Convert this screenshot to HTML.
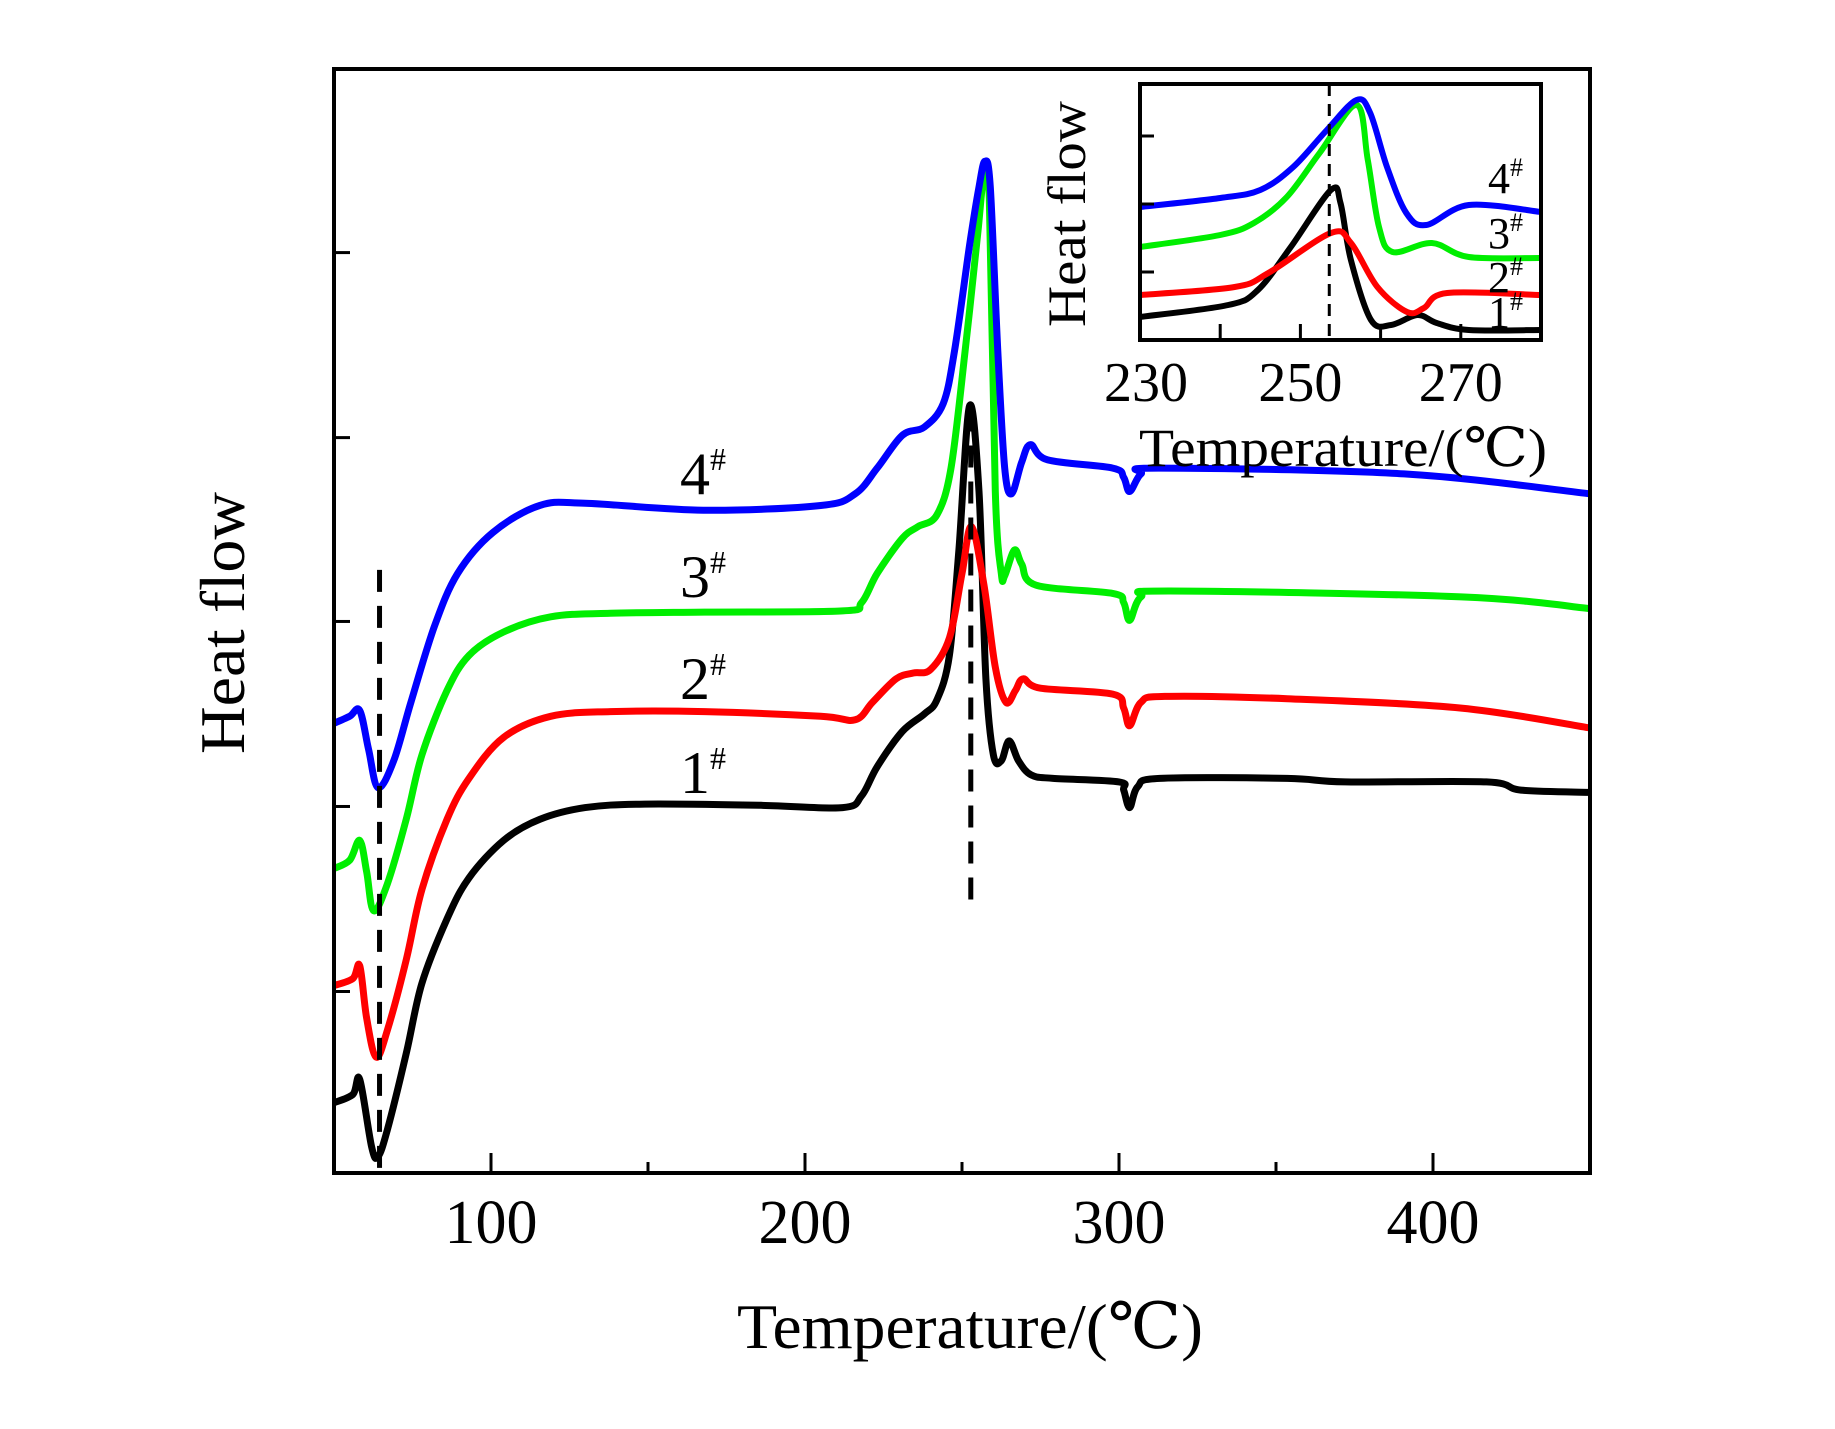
<!DOCTYPE html>
<html><head><meta charset="utf-8"><style>
html,body{margin:0;padding:0;background:#fff;}
svg{display:block;}
text{font-family:"Liberation Serif","DejaVu Serif",serif;fill:#000;}
</style></head><body>
<svg id="chart" width="1835" height="1429" viewBox="0 0 1835 1429" xmlns="http://www.w3.org/2000/svg"></svg>
<script>
// ---- main chart data ----
const mainXTicks = [100, 200, 300, 400];
const mainXMinor = [150, 250, 350];
const mainYTicks = [1.55, 3.13, 4.71, 6.28, 7.86];
const s1T = [50,56,58.2,62,64,67,73,78,86,93,104,115.5,130,149,186,212,218,223,231,238,242,246,249,252.4,255.4,257.6,260,262.5,265,268,272,279,300,301.5,303.4,306,313,353.6,372,417,428,450];
const s1V = [0.60,0.67,0.80,0.22,0.14,0.37,1.02,1.62,2.17,2.52,2.84,3.02,3.12,3.15,3.14,3.12,3.22,3.47,3.77,3.92,4.04,4.42,5.32,6.55,5.82,4.22,3.57,3.52,3.69,3.52,3.40,3.37,3.34,3.27,3.12,3.30,3.37,3.37,3.34,3.34,3.27,3.25];
const s2T = [50,56,58.2,60.4,63.4,67,73,78,86,93,104,119,138,168,205,216,221.5,229,234.5,240,246,250,253,257,260.6,264,267,269.5,275,298,301.5,303.4,307,314.6,353.6,409,450];
const s2V = [1.60,1.66,1.77,1.32,0.99,1.22,1.82,2.42,3.02,3.37,3.72,3.90,3.94,3.94,3.90,3.87,4.02,4.22,4.27,4.30,4.57,5.12,5.52,5.02,4.32,4.02,4.12,4.22,4.14,4.09,3.97,3.82,4.02,4.07,4.05,3.97,3.80];
const s3T = [50,55,58.2,60.4,62.6,67,73,78,86,93,104,119,138,168,212,218,223,231,236,242,246.5,251,255,257,258.7,260.6,262.5,263.6,266.7,269,273.6,298,301.5,303.4,307,316,409,450];
const s3V = [2.60,2.67,2.84,2.57,2.24,2.47,3.02,3.57,4.12,4.42,4.62,4.75,4.78,4.79,4.80,4.87,5.12,5.42,5.52,5.62,6.02,7.02,8.02,8.52,8.32,5.82,5.12,5.10,5.32,5.20,5.02,4.95,4.87,4.72,4.92,4.97,4.92,4.82];
const s4T = [50,55,58.2,61,64,69,74.5,82,89.4,100.6,115.5,130,167.6,205,216,223,231,238,244,247.6,252.4,255.4,257.3,259,261.4,263.6,265.8,269,271.8,277.3,298,301.5,303.4,307,312.7,390.8,450];
const s4V = [3.84,3.90,3.95,3.62,3.29,3.52,4.02,4.67,5.12,5.47,5.70,5.72,5.66,5.70,5.80,6.02,6.30,6.37,6.57,7.02,7.92,8.42,8.64,8.42,7.02,6.02,5.80,6.07,6.22,6.09,6.02,5.94,5.82,5.97,6.02,5.97,5.80];
const dashT = [64.5, 252.8];
const dashV0 = [5.15, 6.52];
const dashV1 = [0.02, 2.27];
// ---- inset data ----
const insetXTicks = [230, 250, 270];
const insetXMinor = [240, 260];
const insetYTicks = [68, 136, 204];
const i1T = [230,241,244.7,248.8,253.8,255,256.3,258.8,261.3,264.6,267,271,280];
const i1V = [23,35,50,93,150,137,80,20,15,25,17,10,10];
const i2T = [230,241.8,246,253.8,256.3,259.6,263.3,265.4,268.3,280];
const i2V = [45,53,67,107,97,53,28,32,47,45];
const i3T = [230,240,244.2,248.3,252.4,257,258.4,259.8,261.5,266.4,271,280];
const i3V = [93,105,117,143,187,235,180,113,88,97,83,82];
const i4T = [230,240,245,249.1,253.3,257,258.7,260.8,263.2,265.7,271,280];
const i4V = [133,142,150,173,210,240,227,173,127,115,135,128];
const insetDashT = 253.6;

const NS = "http://www.w3.org/2000/svg";
const svg = document.getElementById('chart');
function mk(tag, attrs, parent){const e=document.createElementNS(NS,tag);for(const k in attrs)e.setAttribute(k,attrs[k]);(parent||svg).appendChild(e);return e;}

const L=334,R=1590,T=69,B=1173;
const xS = t => L + (t-50)/(450-50)*(R-L);
const yS = v => B - v*117.1;
const IL=1140,IR=1541,IT=84,IB=340;
const ixS = t => IL + (t-230)/(280-230)*(IR-IL);
const iyS = u => IB - u;

function spline(pts){
  let d='M'+pts[0][0].toFixed(1)+','+pts[0][1].toFixed(1);
  for(let i=0;i<pts.length-1;i++){
    const p0=pts[Math.max(0,i-1)],p1=pts[i],p2=pts[i+1],p3=pts[Math.min(pts.length-1,i+2)];
    const c1x=p1[0]+(p2[0]-p0[0])/6,c1y=p1[1]+(p2[1]-p0[1])/6;
    const c2x=p2[0]-(p3[0]-p1[0])/6,c2y=p2[1]-(p3[1]-p1[1])/6;
    d+=' C'+c1x.toFixed(1)+','+c1y.toFixed(1)+' '+c2x.toFixed(1)+','+c2y.toFixed(1)+' '+p2[0].toFixed(1)+','+p2[1].toFixed(1);
  }
  return d;
}

const series=[[s1T,s1V,'#000000','curve-1'],[s2T,s2V,'#ff0000','curve-2'],[s3T,s3V,'#00ee00','curve-3'],[s4T,s4V,'#0000ff','curve-4']];
series.forEach(s=>{
  const p=mk('path',{d:spline(s[0].map((t,i)=>[xS(t),yS(s[1][i])])),fill:'none',stroke:s[2],'stroke-width':7,'stroke-linejoin':'round'});
  
  
});
dashT.forEach((t,i)=>{
  const l=mk('line',{x1:xS(t),x2:xS(t),y1:yS(dashV0[i]),y2:yS(dashV1[i]),stroke:'#000','stroke-width':5,'stroke-dasharray':'22,14'});
  
  
});
const fr=mk('rect',{x:L,y:T,width:R-L,height:B-T,fill:'none',stroke:'#000','stroke-width':4});


mainXTicks.forEach(t=>{
  const l=mk('line',{x1:xS(t),x2:xS(t),y1:B,y2:B-20,stroke:'#000','stroke-width':3});
  
  
  const tx=mk('text',{x:xS(t),y:B+70,'font-size':62,'text-anchor':'middle'});
  tx.textContent=t;
  
  
});
mainXMinor.forEach(t=>{
  const l=mk('line',{x1:xS(t),x2:xS(t),y1:B,y2:B-11,stroke:'#000','stroke-width':3});
  
  
});
mainYTicks.forEach(v=>{
  const l=mk('line',{x1:L,x2:L+16,y1:yS(v),y2:yS(v),stroke:'#000','stroke-width':3});
  
  
});
const xt=mk('text',{x:970,y:1348,'font-size':64,'text-anchor':'middle',textLength:466,lengthAdjust:'spacingAndGlyphs'});
xt.textContent='Temperature/(℃)';


const yt=mk('text',{x:0,y:0,'font-size':64,'text-anchor':'middle',textLength:262,lengthAdjust:'spacingAndGlyphs',transform:'translate(244,623) rotate(-90)'});
yt.textContent='Heat flow';


const lbl=[['1',773],['2',679],['3',577],['4',474]];
lbl.forEach(a=>{
  const tx=mk('text',{x:680,y:a[1]+20,'font-size':60});
  tx.textContent=a[0];
  
  
  const sp=mk('tspan',{dy:-24,'font-size':32},tx);sp.textContent='#';
});

const ib=mk('rect',{x:IL,y:IT,width:IR-IL,height:IB-IT,fill:'#fff',stroke:'#000','stroke-width':4});


const iseries=[[i1T,i1V,'#000000','inset-curve-1'],[i2T,i2V,'#ff0000','inset-curve-2'],[i3T,i3V,'#00ee00','inset-curve-3'],[i4T,i4V,'#0000ff','inset-curve-4']];
const clip=mk('clipPath',{id:'ic'});mk('rect',{x:IL,y:IT,width:IR-IL,height:IB-IT},clip);
iseries.forEach(s=>{
  const p=mk('path',{d:spline(s[0].map((t,i)=>[ixS(t),iyS(s[1][i])])),fill:'none',stroke:s[2],'stroke-width':6,'clip-path':'url(#ic)'});
  
  
});
const idl=mk('line',{x1:ixS(insetDashT),x2:ixS(insetDashT),y1:IT,y2:IB,stroke:'#000','stroke-width':3,'stroke-dasharray':'12,8'});


const ib2=mk('rect',{x:IL,y:IT,width:IR-IL,height:IB-IT,fill:'none',stroke:'#000','stroke-width':4});


insetXTicks.concat(insetXMinor).forEach(t=>{
  const l=mk('line',{x1:ixS(t),x2:ixS(t),y1:IB,y2:IB-16,stroke:'#000','stroke-width':3});
  
  
});
insetXTicks.forEach(t=>{
  const tx=mk('text',{x:ixS(t)+(t===230?6:0),y:401,'font-size':56,'text-anchor':'middle'});
  tx.textContent=t;
  
  
});
insetYTicks.forEach(u=>{
  const l=mk('line',{x1:IL,x2:IL+14,y1:iyS(u),y2:iyS(u),stroke:'#000','stroke-width':3});
  
  
});
const ixt=mk('text',{x:1343,y:466,'font-size':54,'text-anchor':'middle',textLength:408,lengthAdjust:'spacingAndGlyphs'});
ixt.textContent='Temperature/(℃)';


const iyt=mk('text',{x:0,y:0,'font-size':54,'text-anchor':'middle',textLength:226,lengthAdjust:'spacingAndGlyphs',transform:'translate(1085,214) rotate(-90)'});
iyt.textContent='Heat flow';


const ilbl=[['4',178],['3',233],['2',277],['1',312]];
ilbl.forEach(a=>{
  const tx=mk('text',{x:1488,y:a[1]+15,'font-size':44});
  tx.textContent=a[0];
  
  
  const sp=mk('tspan',{dy:-17,'font-size':26},tx);sp.textContent='#';
});
</script>
</body></html>
